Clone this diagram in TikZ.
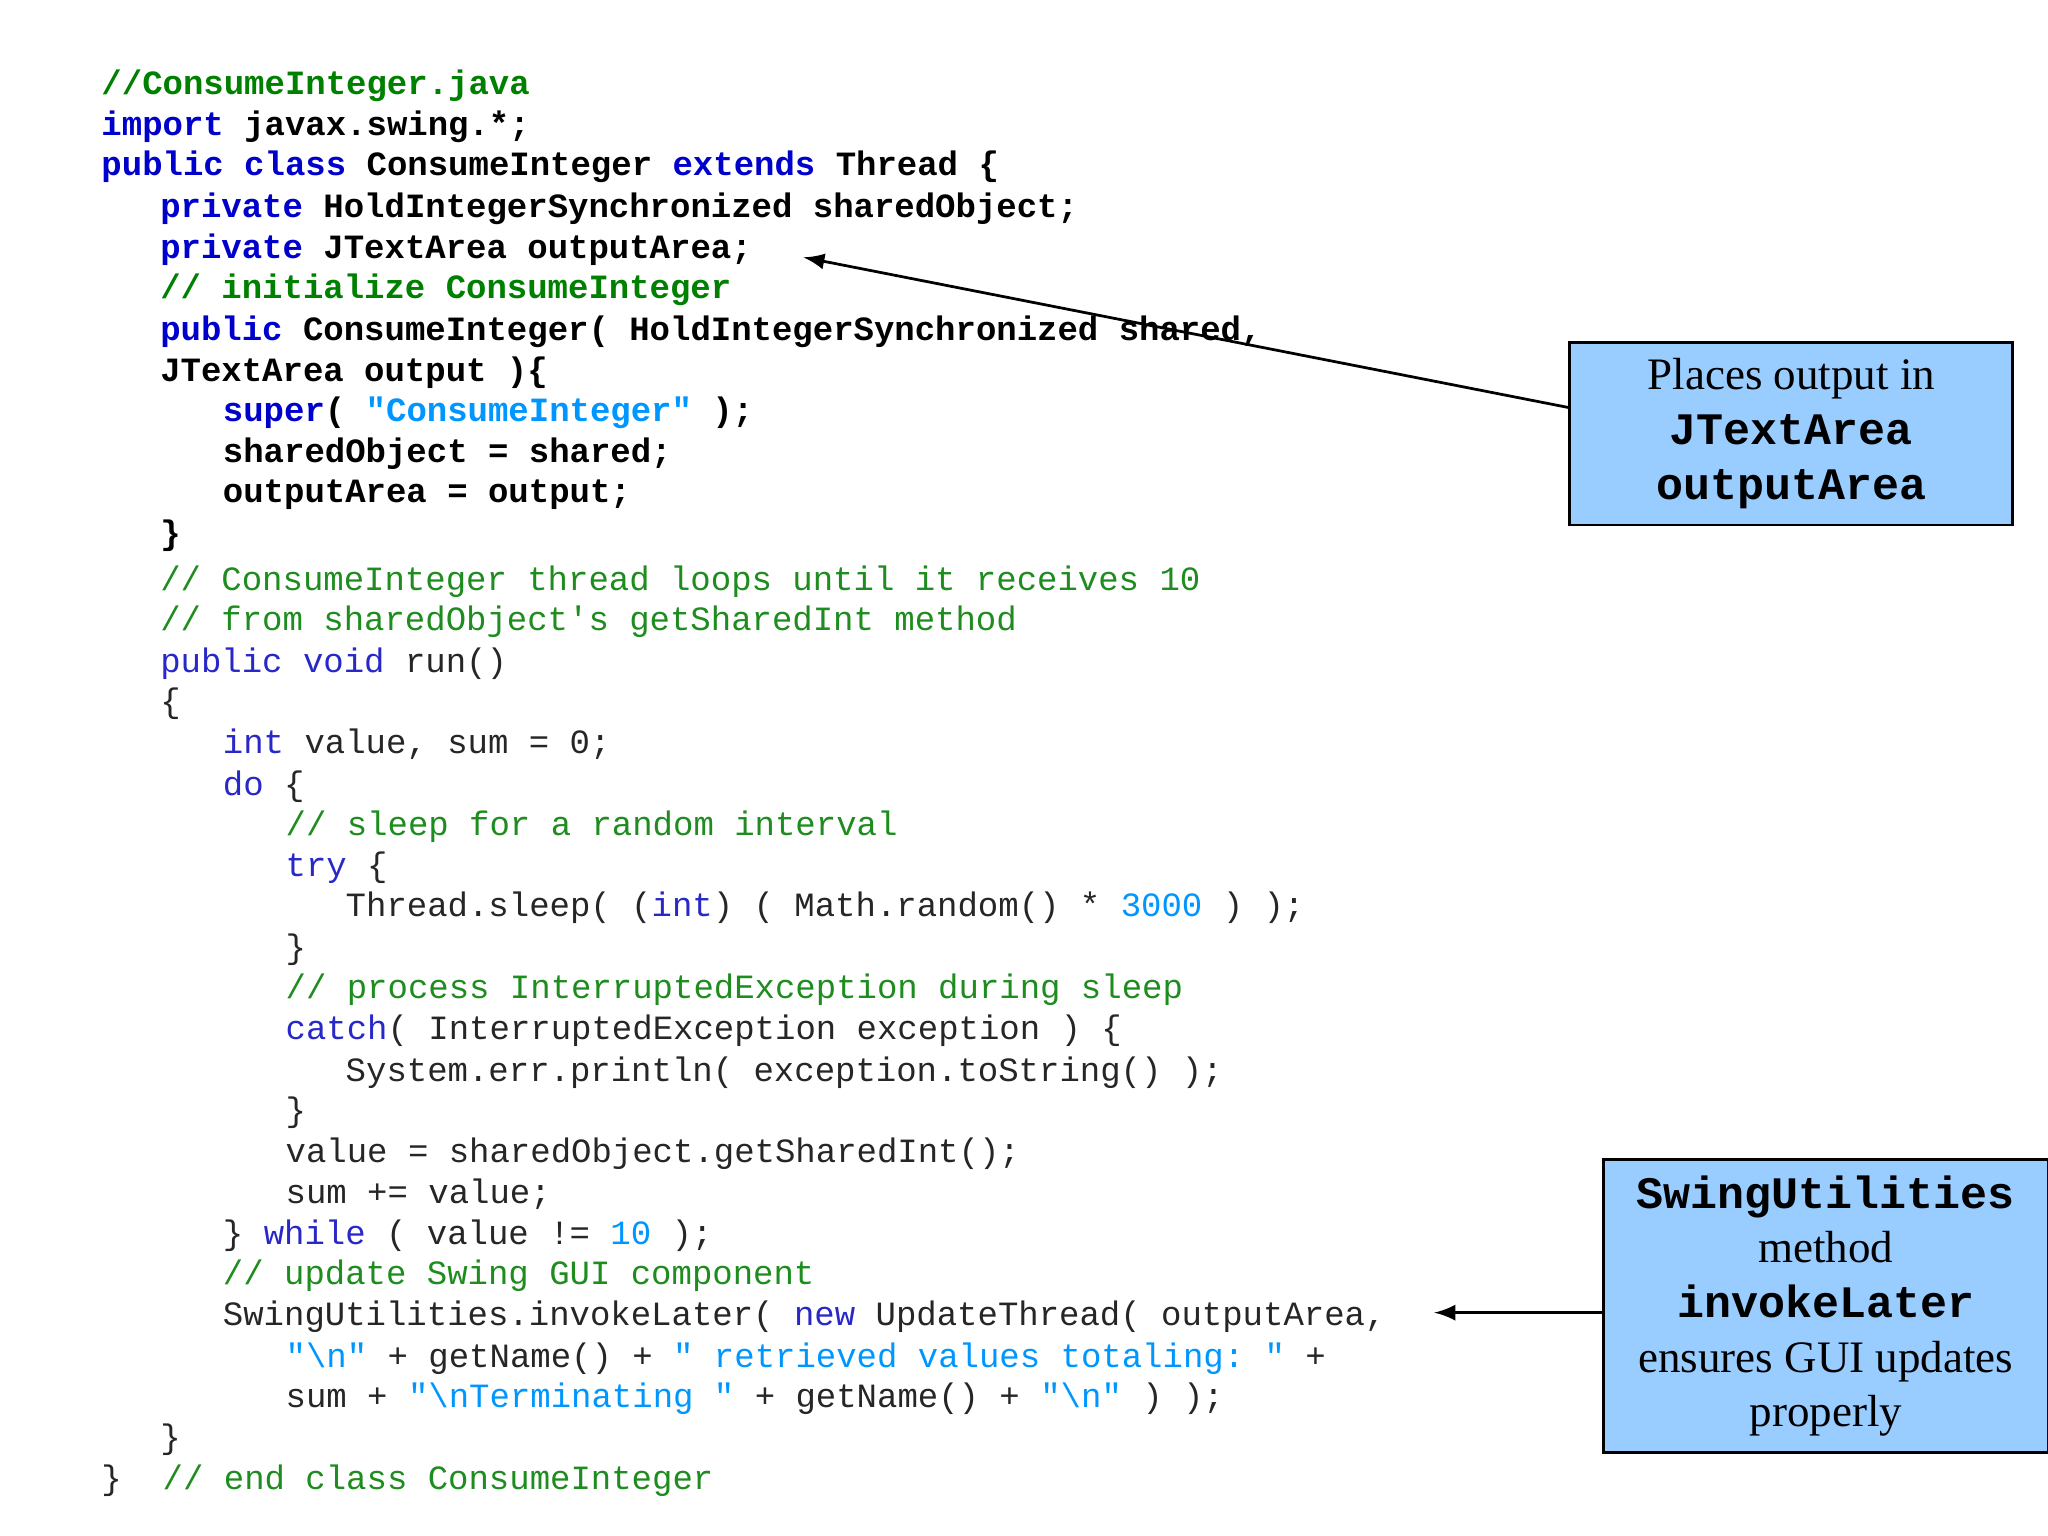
\documentclass[tikz,border=0pt]{standalone}
\usepackage{fontspec}
\setmainfont{Liberation Serif}
\setmonofont{Liberation Mono}
\begin{document}
\definecolor{kw}{RGB}{0,0,205}
\definecolor{cm}{RGB}{0,128,0}
\definecolor{cmb}{RGB}{30,140,30}
\definecolor{st}{RGB}{0,150,255}
\definecolor{kwl}{RGB}{40,40,200}
\definecolor{boxfill}{RGB}{153,204,255}
\newcommand{\K}[1]{\textcolor{kw}{#1}}
\newcommand{\C}[1]{\textcolor{cm}{#1}}
\newcommand{\Cl}[1]{\textcolor{cmb}{#1}}
\newcommand{\Sq}[1]{\textcolor{st}{#1}}
\newcommand{\Kl}[1]{\textcolor{kwl}{#1}}
\newcommand{\bs}{\textbackslash}
\begin{tikzpicture}[x=0.01cm,y=-0.01cm,
  code/.style={anchor=west,inner sep=0pt,font=\fontsize{7.4}{9}\selectfont\ttfamily\bfseries},
  codel/.style={anchor=west,inner sep=0pt,font=\fontsize{7.4}{9}\selectfont\ttfamily,text=black!85},
  note/.style={draw=black,fill=boxfill,line width=0.6pt,align=center,inner sep=0pt,font=\fontsize{9.8}{11.9}\selectfont},
  arr/.style={-latex,line width=0.6pt}]
\useasboundingbox (0,0) rectangle (1568,1176);
\node[code] (l1) at (77,66) {\C{//ConsumeInteger.java}};
\node[code] (l2) at (77,97) {\K{import} javax.swing.*;};
\node[code] (l3) at (77,128) {\K{public class} ConsumeInteger \K{extends} Thread \{};
\node[code] (l4) at (122,160) {\K{private} HoldIntegerSynchronized sharedObject;};
\node[code] (l5) at (122,191) {\K{private} JTextArea outputArea;};
\node[code] (l6) at (122,222) {\C{// initialize ConsumeInteger}};
\node[code] (l7) at (122,254) {\K{public} ConsumeInteger( HoldIntegerSynchronized shared,};
\node[code] (l8) at (122,285) {JTextArea output )\{};
\node[code] (l9) at (170,316) {\K{super}( \Sq{"ConsumeInteger"} );};
\node[code] (l10) at (170,347) {sharedObject = shared;};
\node[code] (l11) at (170,379) {outputArea = output;};
\node[code] (l12) at (122,410) {\}};
\node[codel] (m1) at (122,445) {\Cl{// ConsumeInteger thread loops until it receives 10}};
\node[codel] (m2) at (122,476) {\Cl{// from sharedObject's getSharedInt method}};
\node[codel] (m3) at (122,508) {\Kl{public void} run()};
\node[codel] (m4) at (122,539) {\{};
\node[codel] (m5) at (170,570) {\Kl{int} value, sum = 0;};
\node[codel] (m6) at (170,602) {\Kl{do} \{};
\node[codel] (m7) at (218,633) {\Cl{// sleep for a random interval}};
\node[codel] (m8) at (218,664) {\Kl{try} \{};
\node[codel] (m9) at (264,695) {Thread.sleep( (\Kl{int}) ( Math.random() * \Sq{3000} ) );};
\node[codel] (m10) at (218,727) {\}};
\node[codel] (m11) at (218,758) {\Cl{// process InterruptedException during sleep}};
\node[codel] (m12) at (218,789) {\Kl{catch}( InterruptedException exception ) \{};
\node[codel] (m13) at (264,821) {System.err.println( exception.toString() );};
\node[codel] (m14) at (218,852) {\}};
\node[codel] (m15) at (218,883) {value = sharedObject.getSharedInt();};
\node[codel] (m16) at (218,914) {sum += value;};
\node[codel] (m17) at (170,946) {\} \Kl{while} ( value != \Sq{10} );};
\node[codel] (m18) at (170,977) {\Cl{// update Swing GUI component}};
\node[codel] (m19) at (170,1008) {SwingUtilities.invokeLater( \Kl{new} UpdateThread( outputArea,};
\node[codel] (m20) at (218,1040) {\Sq{"\bs n"} + getName() + \Sq{" retrieved values totaling: "} +};
\node[codel] (m21) at (218,1071) {sum + \Sq{"\bs nTerminating "} + getName() + \Sq{"\bs n"} ) );};
\node[codel] (m22) at (122,1102) {\}};
\node[codel] (m23) at (77,1134) {\}\ \ \Cl{// end class ConsumeInteger}};
\node[note,minimum width=3.39cm,minimum height=1.40cm] (b1) at (1371.5,332)
  {Places output in\\{\ttfamily\bfseries JTextArea}\\{\ttfamily\bfseries outputArea}};
\node[note,minimum width=3.40cm,minimum height=2.24cm] (b2) at (1398,1000)
  {{\ttfamily\bfseries SwingUtilities}\\method\\{\ttfamily\bfseries invokeLater}\\ensures GUI updates\\properly};
\coordinate (t1) at (615,197);
\coordinate (t2) at (1098,1005);
\draw[arr] (b1.west) ++(0,-20) -- (t1);
\draw[arr] (b2.west) ++(0,5) -- (t2);
\end{tikzpicture}
\end{document}
